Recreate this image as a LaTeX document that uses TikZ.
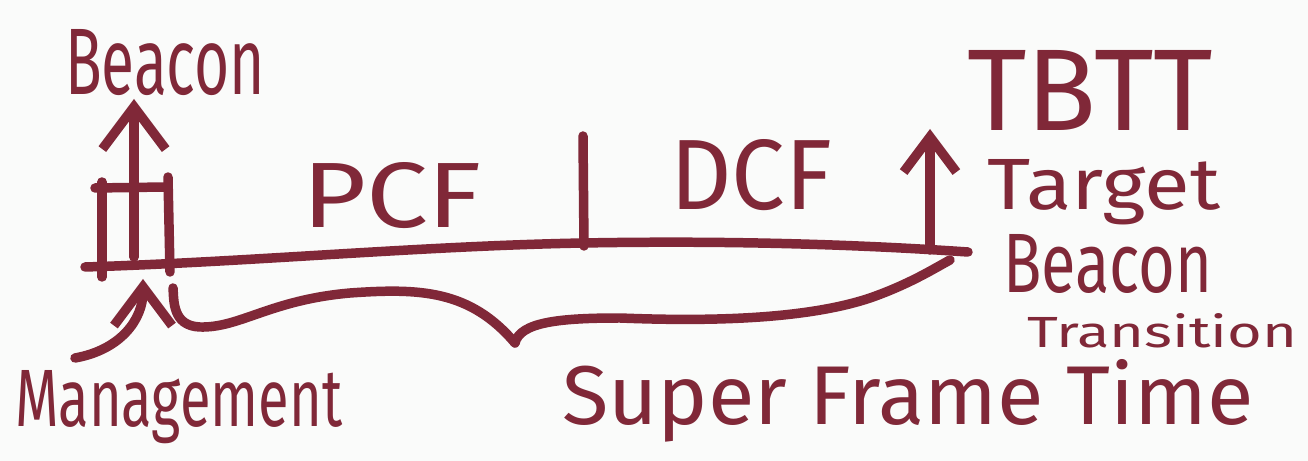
\documentclass[tikz,border=0pt]{standalone}
\usepackage{fontspec}
\setmainfont{Fira Sans}
\usepackage{graphicx}
\usetikzlibrary{arrows.meta}
\definecolor{ink}{RGB}{128,40,56}
\definecolor{paper}{RGB}{250,251,250}
\newcommand\hwtext[3]{\resizebox{#1cm}{#2cm}{#3}}
\begin{document}
\begin{tikzpicture}[x=0.01cm,y=-0.01cm,
  pen/.style={draw=ink,line width=2.7pt,line cap=round,line join=round},
  lbl/.style={anchor=base west,inner sep=0pt,outer sep=0pt,text=ink},
  barb/.style={-{Straight Barb[length=#1pt,width=#1pt*1.5,line width=2.7pt]}}]
\fill[paper] (0,0) rectangle (1308,461);
\useasboundingbox (0,0) rectangle (1308,461);

% labels
\node[lbl] (beaconL) at (65,95) {\hwtext{2.00}{0.65}{Beacon}};
\node[lbl] (mgmt) at (15,427) {\hwtext{3.27}{0.56}{Management}};
\node[lbl] (pcf) at (302,228) {\hwtext{1.80}{0.65}{PCF}};
\node[lbl] (dcf) at (670,210) {\hwtext{1.62}{0.70}{DCF}};
\node[lbl] (tbtt) at (967,130) {\hwtext{2.46}{0.80}{TBTT}};
\node[lbl] (target) at (987,210) {\hwtext{2.33}{0.50}{Target}};
\node[lbl] (beaconR) at (1003,293) {\hwtext{2.09}{0.58}{Beacon}};
\node[lbl] (trans) at (1027,348) {\hwtext{2.70}{0.34}{Transition}};
\node[lbl] (sft) at (562,425) {\hwtext{6.91}{0.65}{Super Frame Time}};

% coordinates
\coordinate (tlL) at (85,267);
\coordinate (tlR) at (968,252);
\coordinate (tickT) at (583,136);
\coordinate (tickB) at (584,246);
\coordinate (bcnB) at (134,257);
\coordinate (bcnT) at (134,99);
\coordinate (tbttB) at (930,250);
\coordinate (tbttT) at (930,129);
\coordinate (mgS) at (75,358);
\coordinate (mgT) at (143,279);
\coordinate (bxL1) at (102,182);
\coordinate (bxL2) at (102,277);
\coordinate (bxT1) at (95,188);
\coordinate (bxT2) at (165,187);
\coordinate (bxR1) at (168,177);
\coordinate (bxR2) at (170,272);
\coordinate (brS) at (173,288);
\coordinate (brTip) at (515,343);
\coordinate (brE) at (950,260);

% timeline
\draw[pen] (tlL) .. controls (250,262) and (420,246) .. (583,243)
  .. controls (750,240) and (880,246) .. (tlR);
% divider between PCF and DCF
\draw[pen] (tickT) -- (tickB);
% management frame box
\draw[pen] (bxL1) -- (bxL2);
\draw[pen] (bxT1) -- (bxT2);
\draw[pen] (bxR1) -- (bxR2);
% beacon arrow
\draw[pen,barb=12] (bcnB) -- (bcnT);
% TBTT arrow
\draw[pen,barb=10] (tbttB) -- (tbttT);
% management arrow
\draw[pen,barb=11] (mgS) .. controls (120,350) and (143,320) .. (mgT);
% brace
\draw[pen] (brS) .. controls (174,300) and (172,326) .. (200,327)
  .. controls (240,328) and (270,300) .. (350,293)
  .. controls (420,288) and (470,290) .. (brTip);
\draw[pen] (brTip) .. controls (520,322) and (560,318) .. (620,318)
  .. controls (720,322) and (810,318) .. (870,298)
  .. controls (910,284) and (935,268) .. (brE);
\end{tikzpicture}
\end{document}
